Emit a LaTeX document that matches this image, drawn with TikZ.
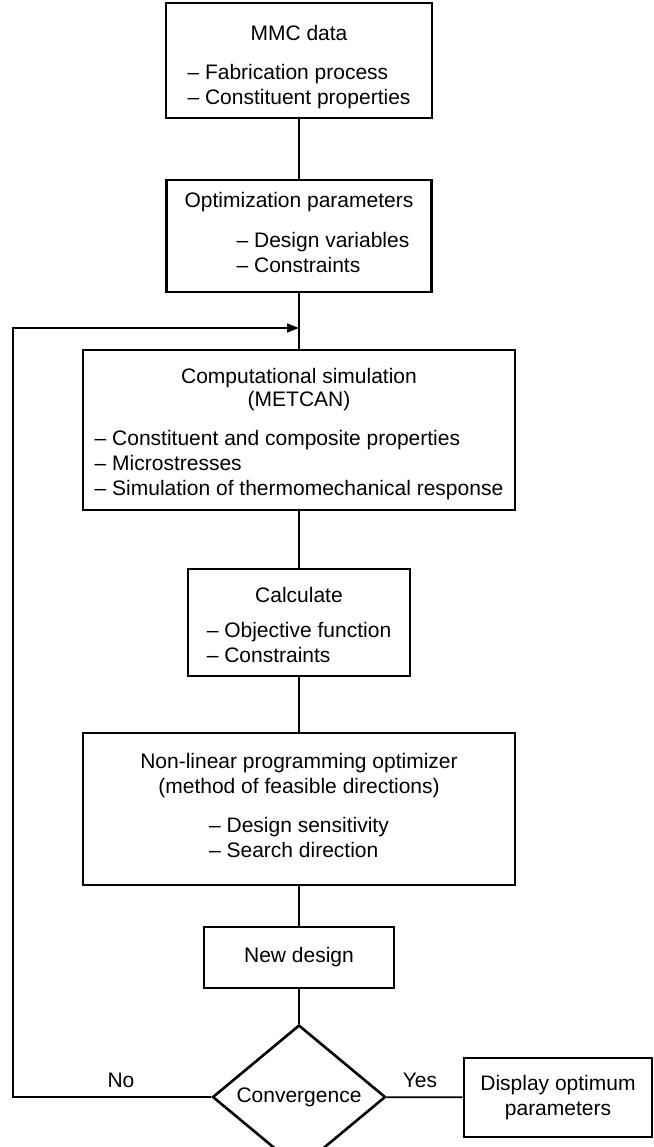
\documentclass[tikz,border=0pt]{standalone}
\usepackage{fontspec}
\setmainfont{Liberation Sans}
\usetikzlibrary{shapes,arrows.meta,positioning}

\begin{document}
\begin{tikzpicture}[x=1pt, y=-1pt,
      every node/.append style={font=\fontsize{21}{25}\selectfont},
      box/.style={draw, line width=2.6pt, align=center, inner sep=0pt},
      link/.style={line width=1.7pt}]
    \useasboundingbox (0,0) rectangle (653,1147);
    \node (mmc) [box, minimum width=266pt, minimum height=115pt] at (299,60.5)
      {\rule{0pt}{32pt}MMC data\\[14pt]\begin{tabular}[t]{@{}l@{}}– Fabrication process\\– Constituent properties\end{tabular}};
    \node (opt) [box, minimum width=265pt, minimum height=112pt] at (299,236)
      {Optimization parameters\\[15pt]\hspace*{48pt}\begin{tabular}[t]{@{}l@{}}– Design variables\\– Constraints\end{tabular}};
    \node (sim) [box, minimum width=432pt, minimum height=160pt] at (299,430)
      {\rule{0pt}{26pt}Computational simulation\\[-2pt](METCAN)\\[14pt]\begin{tabular}[t]{@{}l@{}}– Constituent and composite properties\\– Microstresses\\– Simulation of thermomechanical response\end{tabular}};
    \node (calc) [box, minimum width=222pt, minimum height=107pt] at (299,622.5)
      {\rule{0pt}{28pt}Calculate\\[10pt]\begin{tabular}[t]{@{}l@{}}– Objective function\\– Constraints\end{tabular}};
    \node (nlp) [box, minimum width=432pt, minimum height=152pt] at (299,809)
      {Non-linear programming optimizer\\(method of feasible directions)\\[14pt]\begin{tabular}[t]{@{}l@{}}– Design sensitivity\\– Search direction\end{tabular}};
    \node (newd) [box, minimum width=190pt, minimum height=61pt] at (299,957.5) {New design};
    \node (conv) [draw, line width=2.6pt, diamond, inner sep=0pt,
      minimum width=173pt, minimum height=100pt] at (299,1097) {Convergence};
    \node (disp) [box, minimum width=188pt, minimum height=79pt] at (558,1097.5)
      {Display optimum\\parameters};
    \node (no) at (121,1080) {No};
    \node (yes) at (420,1080) {Yes};
    \coordinate (back) at (299,328);
    \coordinate (loop) at (13,328);

    \draw[link] (mmc) -- (opt);
    \draw[link] (opt) -- (sim);
    \draw[link] (sim) -- (calc);
    \draw[link] (calc) -- (nlp);
    \draw[link] (nlp) -- (newd);
    \draw[link] (newd) -- (conv);
    \draw[link] (conv) -- (disp);
    % loop back when not converged
    \draw[link, -{Triangle[length=12pt, width=9pt]}] (conv.west) -| (loop) -- (back);
\end{tikzpicture}
\end{document}
